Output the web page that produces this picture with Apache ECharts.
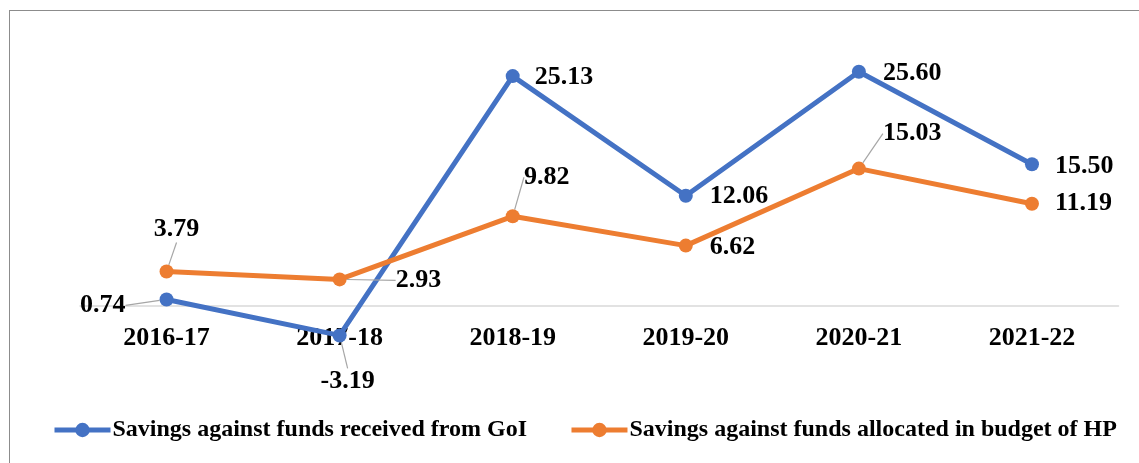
<!DOCTYPE html>
<html>
<head>
<meta charset="utf-8">
<script src="https://cdn.jsdelivr.net/npm/echarts@6/dist/echarts.min.js"></script>
<style>
  html, body { margin: 0; padding: 0; background: #fff; }
  #wrap { position: relative; width: 1139px; height: 463px; overflow: hidden; }
  #frame { position: absolute; left: 9px; top: 10px; width: 1160px; height: 480px; border: 1.5px solid #8c8c8c; box-sizing: border-box; }
  #chart { position: absolute; left: 0; top: 0; width: 1139px; height: 463px; }
</style>
</head>
<body>
<div id="wrap">
  <div id="frame"></div>
  <div id="chart"></div>
</div>
<script>
const years = ['2016-17', '2017-18', '2018-19', '2019-20', '2020-21', '2021-22'];
const savingsGoI = [0.74, -3.19, 25.13, 12.06, 25.60, 15.50];
const savingsHP = [3.79, 2.93, 9.82, 6.62, 15.03, 11.19];
const seriesNames = ['Savings against funds received from GoI', 'Savings against funds allocated in budget of HP'];

// label placement per point: position, distance, shift, leader line
const goiLabels = [
    { position: 'left', distance: 34, shift: [0, 6], line: true },
    { position: 'bottom', distance: 26, shift: [8, 0], line: true },
    { position: 'right', distance: 15, shift: [0, 1] },
    { position: 'right', distance: 17, shift: [0, 1] },
    { position: 'right', distance: 17, shift: [0, 1] },
    { position: 'right', distance: 16, shift: [0, 2] }
];
const hpLabels = [
    { position: 'top', distance: 22, shift: [10, 0], line: true },
    { position: 'right', distance: 49, shift: [0, 1], line: true },
    { position: 'top', distance: 19, shift: [34, 0], line: true },
    { position: 'right', distance: 17, shift: [0, 2] },
    { position: 'right', distance: 17, shift: [0, -35], line: true },
    { position: 'right', distance: 16, shift: [0, 0] }
];
const labelSets = [goiLabels, hpLabels];

const blue = '#4472C4';
const orange = '#ED7D31';
const font = '"Liberation Serif", "Times New Roman", serif';

function buildData(values, labels) {
    return values.map(function (v, i) {
        const l = labels[i];
        return {
            value: v,
            label: { position: l.position, distance: l.distance },
            labelLine: { show: !!l.line, lineStyle: { color: '#A6A6A6', width: 1.2 } }
        };
    });
}

function makeSeries(name, values, labels, color) {
    return {
        name: name,
        type: 'line',
        data: buildData(values, labels),
        symbol: 'circle',
        symbolSize: 14,
        itemStyle: { color: color },
        lineStyle: { color: color, width: 5 },
        label: {
            show: true,
            fontFamily: font,
            fontWeight: 'bold',
            fontSize: 26,
            color: '#000',
            formatter: function (p) { return p.value.toFixed(2); }
        },
        labelLayout: function (params) {
            const l = labelSets[params.seriesIndex][params.dataIndex];
            return { dx: l.shift[0], dy: l.shift[1] };
        },
        animation: false
    };
}

const chart = echarts.init(document.getElementById('chart'));
chart.setOption({
    backgroundColor: 'transparent',
    animation: false,
    grid: { left: 80, right: 20.5, top: 31.5, bottom: 111 },
    legend: {
        left: 47,
        top: 413,
        itemWidth: 56,
        itemHeight: 18,
        itemGap: 42,
        lineStyle: { width: 5 },
        textStyle: { fontFamily: font, fontWeight: 'bold', fontSize: 24, color: '#000', padding: [0, 0, 0, -3] },
        data: seriesNames
    },
    xAxis: {
        type: 'category',
        data: years,
        boundaryGap: true,
        axisLine: { onZero: true, lineStyle: { color: '#D9D9D9', width: 1.5 } },
        axisTick: { show: false },
        axisLabel: { margin: -27, fontFamily: font, fontWeight: 'bold', fontSize: 26, color: '#000' }
    },
    yAxis: {
        type: 'value',
        min: -5,
        max: 30,
        interval: 5,
        show: false,
        splitLine: { show: false }
    },
    series: [
        makeSeries(seriesNames[0], savingsGoI, goiLabels, blue),
        makeSeries(seriesNames[1], savingsHP, hpLabels, orange)
    ]
});
</script>
</body>
</html>
